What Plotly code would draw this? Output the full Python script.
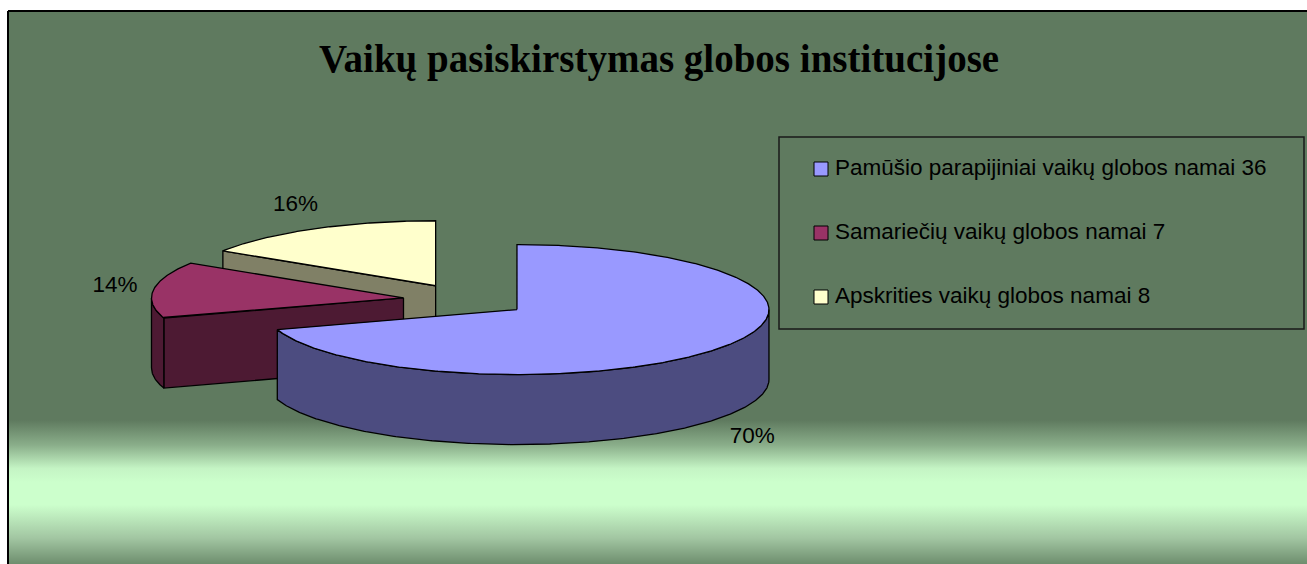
import numpy as np
import plotly.graph_objects as go

# ---------------- data ----------------
title = "Vaikų pasiskirstymas globos institucijose"
categories = [
    "Pamūšio parapijiniai vaikų globos namai 36",
    "Samariečių vaikų globos namai 7",
    "Apskrities vaikų globos namai 8",
]
values = [35, 7, 8]
top_colors = ["#9999FF", "#993366", "#FFFFCC"]
side_colors = ["#4C4C80", "#4D1A33", "#808066"]

# ---------------- layout constants (pixels) ----------------
W, H = 1307, 564
CX, CY = 466, 300          # pie centre before explosion
RX, RY = 252, 65           # ellipse radii of top face
DEPTH = 70                 # pie thickness
EXPLODE = 0.25             # explosion, fraction of radius
LBL_KX, LBL_HALF_W, LBL_KY, LBL_FRONT_PAD = 1.065, 22.5, 1.42, 4
FONT_SANS = "Liberation Sans, Arial, sans-serif"
FONT_SERIF = "Liberation Serif, Times New Roman, serif"

fig = go.Figure()

# background frame with vertical gradient
fig.add_trace(go.Scatter(
    x=[8, 1400, 1400, 8, 8], y=[11, 11, 700, 700, 11],
    mode="lines", fill="toself",
    line=dict(color="black", width=2),
    fillgradient=dict(
        type="vertical", start=11, stop=564,
        colorscale=[
            [0.0, "#5F7A5F"], [0.74, "#5F7A5F"], [0.785, "#8AAE8A"],
            [0.827, "#C4F4C4"], [0.852, "#CCFFCC"], [0.893, "#CCFFCC"],
            [0.953, "#A2C6A2"], [1.0, "#6E8E6E"],
        ],
    ),
    hoverinfo="skip", showlegend=False,
))

total = float(sum(values))
fracs = [v / total for v in values]
starts = np.concatenate([[0.0], np.cumsum(fracs)[:-1]]) * 360.0
ends = np.cumsum(fracs) * 360.0


def pt(ox, oy, theta, dz=0.0):
    t = np.radians(theta)
    return ox + RX * np.sin(t), oy - RY * np.cos(t) + dz


def arc(ox, oy, a, b, dz=0.0):
    n = max(2, int(abs(b - a) * 2))
    th = np.linspace(a, b, n)
    xs, ys = pt(ox, oy, th, dz)
    return list(xs), list(ys)


slices = []
for i in range(len(values)):
    a, b = starts[i], ends[i]
    m = np.radians((a + b) / 2)
    ox = CX + EXPLODE * RX * np.sin(m)
    oy = CY - EXPLODE * RY * np.cos(m)
    slices.append((oy, i, a, b, ox, m))

line_style = dict(color="black", width=1.3)


def poly(xs, ys, color):
    fig.add_trace(go.Scatter(
        x=xs + [xs[0]], y=ys + [ys[0]], mode="lines", fill="toself",
        fillcolor=color, line=line_style, hoverinfo="skip", showlegend=False,
    ))


# draw back to front
for oy, i, a, b, ox, m in sorted(slices):
    # radial face at start edge
    if np.sin(np.radians(a)) < -1e-6:
        px, py = pt(ox, oy, a)
        poly([ox, px, px, ox], [oy, py, py + DEPTH, oy + DEPTH], side_colors[i])
    # radial face at end edge
    if np.sin(np.radians(b)) > 1e-6:
        px, py = pt(ox, oy, b)
        poly([ox, px, px, ox], [oy, py, py + DEPTH, oy + DEPTH], side_colors[i])
    # outer wall (front half 90..270)
    lo, hi = max(a, 90.0), min(b, 270.0)
    if hi > lo:
        tx, ty = arc(ox, oy, lo, hi)
        bx, by = arc(ox, oy, hi, lo, DEPTH)
        poly(tx + bx, ty + by, side_colors[i])
    # top face
    tx, ty = arc(ox, oy, a, b)
    poly([ox] + tx, [oy] + ty, top_colors[i])

# percentage labels
lx, ly, lt = [], [], []
for oy, i, a, b, ox, m in slices:
    x = ox + (LBL_KX * RX + LBL_HALF_W) * np.sin(m)
    y = oy - LBL_KY * RY * np.cos(m) + ((DEPTH + LBL_FRONT_PAD) if np.cos(m) < 0 else 0)
    lx.append(x); ly.append(y); lt.append(f"{round(fracs[i] * 100)}%")
fig.add_trace(go.Scatter(
    x=lx, y=ly, text=lt, mode="text", textposition="middle center",
    textfont=dict(family=FONT_SANS, size=22.5, color="black"),
    hoverinfo="skip", showlegend=False,
))

# legend box
LX0, LY0, LX1, LY1 = 779, 137, 1304, 329
fig.add_shape(type="rect", x0=LX0, y0=LY0, x1=LX1, y1=LY1,
              line=dict(color="#1a1a1a", width=1.5), fillcolor="rgba(0,0,0,0)", layer="above")
rows = [LY0 + (LY1 - LY0) * (k + 0.5) / len(categories) for k in range(len(categories))]
fig.add_trace(go.Scatter(
    x=[821] * len(categories), y=rows, mode="markers",
    marker=dict(symbol="square", size=14, color=top_colors, line=dict(color="black", width=1)),
    hoverinfo="skip", showlegend=False,
))
fig.add_trace(go.Scatter(
    x=[835] * len(categories), y=rows, text=categories, mode="text",
    textposition="middle right",
    textfont=dict(family=FONT_SANS, size=22.5, color="black"),
    hoverinfo="skip", showlegend=False,
))

fig.add_annotation(
    x=659, y=59, xref="x", yref="y", text="<b>" + title + "</b>", showarrow=False,
    font=dict(family=FONT_SERIF, size=39, color="black"),
    xanchor="center", yanchor="middle",
)

fig.update_layout(
    width=W, height=H, margin=dict(l=0, r=0, t=0, b=0),
    paper_bgcolor="white", plot_bgcolor="white",
    xaxis=dict(range=[0, W], visible=False, fixedrange=True),
    yaxis=dict(range=[H, 0], visible=False, fixedrange=True),
    showlegend=False,
)

fig.write_html(
    "out.html",
    config={"displayModeBar": False},
    post_script="document.body.style.margin='0';document.body.style.overflow='hidden';",
)
